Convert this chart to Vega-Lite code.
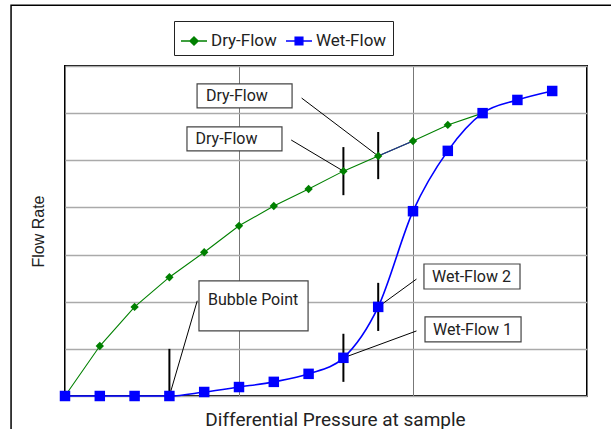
{
  "$schema": "https://vega.github.io/schema/vega-lite/v6.json",
  "width": 522,
  "height": 330,
  "autosize": {"type": "none"},
  "padding": {"left": 65, "top": 66, "right": 24, "bottom": 33},
  "background": "white",
  "config": {
    "view": {"stroke": "black", "strokeWidth": 2},
    "font": "Roboto"
  },
  "datasets": {
    "curves": [
      {"p": 0.0, "f": 0.0, "series": "Dry-Flow"},
      {"p": 0.2, "f": 1.06, "series": "Dry-Flow"},
      {"p": 0.4, "f": 1.89, "series": "Dry-Flow"},
      {"p": 0.6, "f": 2.52, "series": "Dry-Flow"},
      {"p": 0.8, "f": 3.05, "series": "Dry-Flow"},
      {"p": 1.0, "f": 3.61, "series": "Dry-Flow"},
      {"p": 1.2, "f": 4.03, "series": "Dry-Flow"},
      {"p": 1.4, "f": 4.39, "series": "Dry-Flow"},
      {"p": 1.6, "f": 4.77, "series": "Dry-Flow"},
      {"p": 1.8, "f": 5.09, "series": "Dry-Flow"},
      {"p": 2.0, "f": 5.41, "series": "Dry-Flow"},
      {"p": 2.2, "f": 5.75, "series": "Dry-Flow"},
      {"p": 2.4, "f": 6.0, "series": "Dry-Flow"},
      {"p": 0.0, "f": 0.0, "series": "Wet-Flow"},
      {"p": 0.2, "f": 0.0, "series": "Wet-Flow"},
      {"p": 0.4, "f": 0.0, "series": "Wet-Flow"},
      {"p": 0.6, "f": 0.0, "series": "Wet-Flow"},
      {"p": 0.8, "f": 0.085, "series": "Wet-Flow"},
      {"p": 1.0, "f": 0.19, "series": "Wet-Flow"},
      {"p": 1.2, "f": 0.3, "series": "Wet-Flow"},
      {"p": 1.4, "f": 0.47, "series": "Wet-Flow"},
      {"p": 1.6, "f": 0.81, "series": "Wet-Flow"},
      {"p": 1.8, "f": 1.89, "series": "Wet-Flow"},
      {"p": 2.0, "f": 3.92, "series": "Wet-Flow"},
      {"p": 2.2, "f": 5.2, "series": "Wet-Flow"},
      {"p": 2.4, "f": 6.0, "series": "Wet-Flow"},
      {"p": 2.6, "f": 6.28, "series": "Wet-Flow"},
      {"p": 2.8, "f": 6.47, "series": "Wet-Flow"}
    ],
    "navy": [
      {"p": 1.8, "f": 5.09},
      {"p": 2.0, "f": 5.41}
    ],
    "markers": [
      {"p": 0.6, "y1": 0.0, "y2": 1.0},
      {"p": 1.6, "y1": 0.3, "y2": 1.32},
      {"p": 1.8, "y1": 1.38, "y2": 2.4},
      {"p": 1.6, "y1": 4.26, "y2": 5.28},
      {"p": 1.8, "y1": 4.6, "y2": 5.6}
    ],
    "leaders": [
      {"id": "a", "p": 0.6, "f": 0.0},
      {"id": "a", "p": 0.76, "f": 2.02},
      {"id": "b", "p": 1.6, "f": 0.81},
      {"id": "b", "p": 2.02, "f": 1.38},
      {"id": "c", "p": 1.8, "f": 1.89},
      {"id": "c", "p": 2.02, "f": 2.48},
      {"id": "d", "p": 1.3, "f": 5.43},
      {"id": "d", "p": 1.6, "f": 4.77},
      {"id": "e", "p": 1.36, "f": 6.32},
      {"id": "e", "p": 1.8, "f": 5.09}
    ],
    "boxes": [
      {"label": "Dry-Flow", "x1": 0.759, "x2": 1.305, "y1": 6.11, "y2": 6.62, "tx": 0.81, "ty": 6.36},
      {"label": "Dry-Flow", "x1": 0.701, "x2": 1.247, "y1": 5.2, "y2": 5.71, "tx": 0.75, "ty": 5.45},
      {"label": "Bubble Point", "x1": 0.77, "x2": 1.397, "y1": 1.38, "y2": 2.44, "tx": 0.822, "ty": 2.03},
      {"label": "Wet-Flow 2", "x1": 2.063, "x2": 2.615, "y1": 2.27, "y2": 2.8, "tx": 2.109, "ty": 2.53},
      {"label": "Wet-Flow 1", "x1": 2.069, "x2": 2.621, "y1": 1.15, "y2": 1.68, "tx": 2.115, "ty": 1.41}
    ],
    "frame": [
      {"x1": -0.31, "x2": 3.6, "y1": -1.5, "y2": 8.29}
    ]
  },
  "layer": [
    {
      "data": {"name": "frame"},
      "mark": {"type": "rect", "fill": null, "stroke": "black", "strokeWidth": 1.5},
      "encoding": {
        "x": {"field": "x1", "type": "quantitative", "scale": {"domain": [0, 3], "nice": false, "zero": false},
          "axis": {"values": [0, 1, 2, 3], "grid": true, "gridColor": "#777", "gridWidth": 1, "labels": false, "ticks": false, "domain": false,
            "title": "Differential Pressure at sample", "titleFontSize": 19, "titleFontWeight": "normal", "titleColor": "#222", "titlePadding": 14, "titleFont": "Roboto", "titleX": 270, "titleAlign": "center", "titleAnchor": "start"}},
        "x2": {"field": "x2"},
        "y": {"field": "y1", "type": "quantitative", "scale": {"domain": [0, 7], "nice": false, "zero": false},
          "axis": {"values": [0, 1, 2, 3, 4, 5, 6, 7], "grid": true, "gridColor": "#aaa", "gridWidth": 1.5, "labels": false, "ticks": false, "domain": false,
            "title": "Flow Rate", "titleFontSize": 16, "titleFontWeight": "normal", "titleColor": "#222", "titlePadding": 19, "titleFont": "Liberation Sans"}},
        "y2": {"field": "y2"}
      }
    },
    {
      "data": {"name": "markers"},
      "mark": {"type": "rule", "color": "black", "strokeWidth": 2},
      "encoding": {
        "x": {"field": "p", "type": "quantitative"},
        "y": {"field": "y1", "type": "quantitative"},
        "y2": {"field": "y2"}
      }
    },
    {
      "data": {"name": "leaders"},
      "mark": {"type": "line", "color": "black", "strokeWidth": 1},
      "encoding": {
        "x": {"field": "p", "type": "quantitative"},
        "y": {"field": "f", "type": "quantitative"},
        "detail": {"field": "id"}
      }
    },
    {
      "data": {"name": "curves"},
      "transform": [{"filter": "datum.series === 'Wet-Flow'"}],
      "mark": {"type": "line", "strokeWidth": 1.6, "interpolate": "monotone"},
      "encoding": {
        "x": {"field": "p", "type": "quantitative"},
        "y": {"field": "f", "type": "quantitative"},
        "color": {"field": "series", "type": "nominal",
          "scale": {"domain": ["Dry-Flow", "Wet-Flow"], "range": ["#008000", "#0000ff"]},
          "legend": {
            "title": null, "orient": "none", "direction": "horizontal", "legendX": 109, "legendY": -45,
            "strokeColor": "#222", "padding": 6, "labelFontSize": 17, "labelColor": "#222", "labelFont": "Roboto",
            "symbolSize": 676, "symbolStrokeWidth": 1.3, "labelOffset": 3, "columnPadding": 6,
            "encode": {"symbols": {"update": {
              "shape": {"signal": "datum.value === 'Dry-Flow' ? 'M-1,0H1M0,-0.32L0.32,0L0,0.32L-0.32,0Z' : 'M-1,0H1M-0.3,-0.3H0.3V0.3H-0.3Z'"},
              "fill": {"signal": "datum.value === 'Dry-Flow' ? '#008000' : '#0000ff'"},
              "stroke": {"signal": "datum.value === 'Dry-Flow' ? '#008000' : '#0000ff'"}
            }}}
          }}
      }
    },
    {
      "data": {"name": "curves"},
      "transform": [{"filter": "datum.series === 'Dry-Flow'"}],
      "mark": {"type": "line", "strokeWidth": 1.1, "color": "#008000"},
      "encoding": {
        "x": {"field": "p", "type": "quantitative"},
        "y": {"field": "f", "type": "quantitative"}
      }
    },
    {
      "data": {"name": "navy"},
      "mark": {"type": "line", "strokeWidth": 1.1, "color": "#2a2a9a"},
      "encoding": {
        "x": {"field": "p", "type": "quantitative"},
        "y": {"field": "f", "type": "quantitative"}
      }
    },
    {
      "data": {"name": "curves"},
      "transform": [{"filter": "datum.series === 'Dry-Flow'"}],
      "mark": {"type": "point", "shape": "diamond", "filled": true, "color": "#008000", "size": 70, "opacity": 1},
      "encoding": {
        "x": {"field": "p", "type": "quantitative"},
        "y": {"field": "f", "type": "quantitative"}
      }
    },
    {
      "data": {"name": "curves"},
      "transform": [{"filter": "datum.series === 'Wet-Flow'"}],
      "mark": {"type": "point", "shape": "square", "filled": true, "color": "#0000ff", "size": 110, "opacity": 1},
      "encoding": {
        "x": {"field": "p", "type": "quantitative"},
        "y": {"field": "f", "type": "quantitative"}
      }
    },
    {
      "data": {"name": "boxes"},
      "mark": {"type": "rect", "fill": "white", "stroke": "#444", "strokeWidth": 1.2},
      "encoding": {
        "x": {"field": "x1", "type": "quantitative"},
        "x2": {"field": "x2"},
        "y": {"field": "y1", "type": "quantitative"},
        "y2": {"field": "y2"}
      }
    },
    {
      "data": {"name": "boxes"},
      "mark": {"type": "text", "align": "left", "baseline": "middle", "fontSize": 16, "color": "#222", "font": "Roboto"},
      "encoding": {
        "x": {"field": "tx", "type": "quantitative"},
        "y": {"field": "ty", "type": "quantitative"},
        "text": {"field": "label"}
      }
    }
  ]
}
